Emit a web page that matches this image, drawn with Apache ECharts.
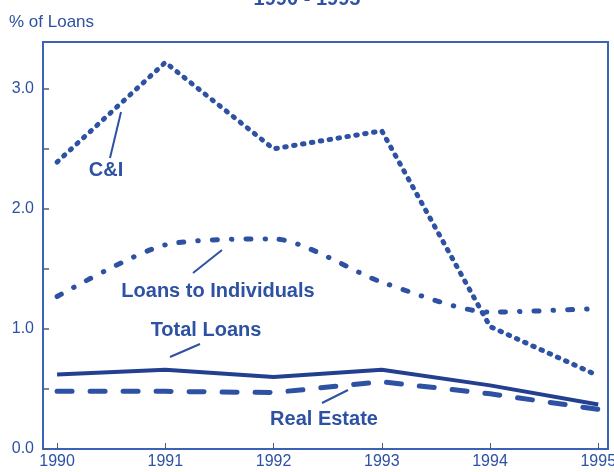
<!DOCTYPE html>
<html>
<head>
<meta charset="utf-8">
<script src="https://cdn.jsdelivr.net/npm/echarts@6/dist/echarts.min.js"></script>
<style>
  html, body { margin: 0; padding: 0; background: #fff; }
  #chart { width: 614px; height: 472px; }
</style>
</head>
<body>
<div id="chart"></div>
<script>
// data
var years = [1990, 1991, 1992, 1993, 1994, 1995];
var cAndI = [2.39, 3.22, 2.50, 2.65, 1.02, 0.61];
var individuals = [1.27, 1.70, 1.75, 1.39, 1.14, 1.17];
var totalLoans = [0.62, 0.66, 0.60, 0.66, 0.53, 0.37];
var realEstate = [0.48, 0.48, 0.47, 0.56, 0.46, 0.33];
var yLabels = [0, 1, 2, 3];
var yTicks = [0, 0.5, 1, 1.5, 2, 2.5, 3];

var blue = '#2d51a3';
var axisBlue = '#3a62b8';
var font = 'Liberation Sans, Arial, sans-serif';
var noteFont = 'bold 20px ' + font;

function pairs(vals) {
    return years.map(function (y, i) { return [y, vals[i]]; });
}

var dom = document.getElementById('chart');
var myChart = echarts.init(dom, null, { renderer: 'canvas' });

var option = {
    animation: false,
    title: {
        text: '1990 - 1995',
        left: 'center',
        top: -16,
        textStyle: { color: blue, fontFamily: font, fontSize: 20, fontWeight: 'bold' }
    },
    grid: {
        left: 43, right: 6, top: 42, bottom: 23,
        show: true, borderColor: axisBlue, borderWidth: 2,
        outerBoundsMode: 'none'
    },
    xAxis: {
        type: 'value',
        min: 1989.87,
        max: 1995.09,
        splitLine: { show: false },
        axisLine: { lineStyle: { color: axisBlue, width: 2 } },
        axisTick: {
            inside: true, length: 6,
            customValues: years,
            lineStyle: { color: '#4a5a80', width: 1 }
        },
        axisLabel: {
            customValues: years,
            color: blue, fontFamily: font, fontSize: 16, margin: 5,
            formatter: function (v) { return String(v); }
        }
    },
    yAxis: {
        type: 'value',
        min: 0,
        max: 3.39,
        name: '% of Loans',
        nameLocation: 'end',
        nameGap: 11,
        nameTextStyle: { color: blue, fontFamily: font, fontSize: 17, align: 'left', padding: [0, 0, 0, -34] },
        splitLine: { show: false },
        axisLine: { show: true, lineStyle: { color: axisBlue, width: 2 } },
        axisTick: {
            inside: true, length: 6,
            customValues: yTicks,
            lineStyle: { color: '#555c70', width: 1.5 }
        },
        axisLabel: {
            customValues: yLabels,
            color: blue, fontFamily: font, fontSize: 16, margin: 9,
            formatter: function (v) { return v.toFixed(1); }
        }
    },
    series: [
        {
            name: 'C&I', type: 'line', data: pairs(cAndI),
            showSymbol: false, symbol: 'none',
            lineStyle: { color: blue, width: 5, type: [1.5, 7.5], cap: 'round' }
        },
        {
            name: 'Loans to Individuals', type: 'line', data: pairs(individuals),
            showSymbol: false, symbol: 'none', smooth: 0.25,
            lineStyle: { color: blue, width: 5, type: [5, 14, 0.5, 14], cap: 'round' }
        },
        {
            name: 'Total Loans', type: 'line', data: pairs(totalLoans),
            showSymbol: false, symbol: 'none',
            lineStyle: { color: '#233f90', width: 4 }
        },
        {
            name: 'Real Estate', type: 'line', data: pairs(realEstate),
            showSymbol: false, symbol: 'none',
            lineStyle: { color: blue, width: 5, type: [15, 18], cap: 'round' }
        }
    ],
    graphic: [
        { type: 'text', x: 106, y: 170, style: { text: 'C&I', fill: blue, font: noteFont, align: 'center', verticalAlign: 'middle' } },
        { type: 'line', shape: { x1: 110, y1: 158, x2: 121, y2: 112 }, style: { stroke: blue, lineWidth: 2 } },
        { type: 'text', x: 218, y: 291, style: { text: 'Loans to Individuals', fill: blue, font: noteFont, align: 'center', verticalAlign: 'middle' } },
        { type: 'line', shape: { x1: 193, y1: 273, x2: 222, y2: 250 }, style: { stroke: blue, lineWidth: 2 } },
        { type: 'text', x: 206, y: 330, style: { text: 'Total Loans', fill: blue, font: noteFont, align: 'center', verticalAlign: 'middle' } },
        { type: 'line', shape: { x1: 170, y1: 357, x2: 200, y2: 344 }, style: { stroke: blue, lineWidth: 2 } },
        { type: 'text', x: 324, y: 419, style: { text: 'Real Estate', fill: blue, font: noteFont, align: 'center', verticalAlign: 'middle' } },
        { type: 'line', shape: { x1: 322, y1: 403, x2: 348, y2: 390 }, style: { stroke: blue, lineWidth: 2 } }
    ]
};

if (option && typeof option === 'object') {
    myChart.setOption(option, true);
}
</script>
</body>
</html>
